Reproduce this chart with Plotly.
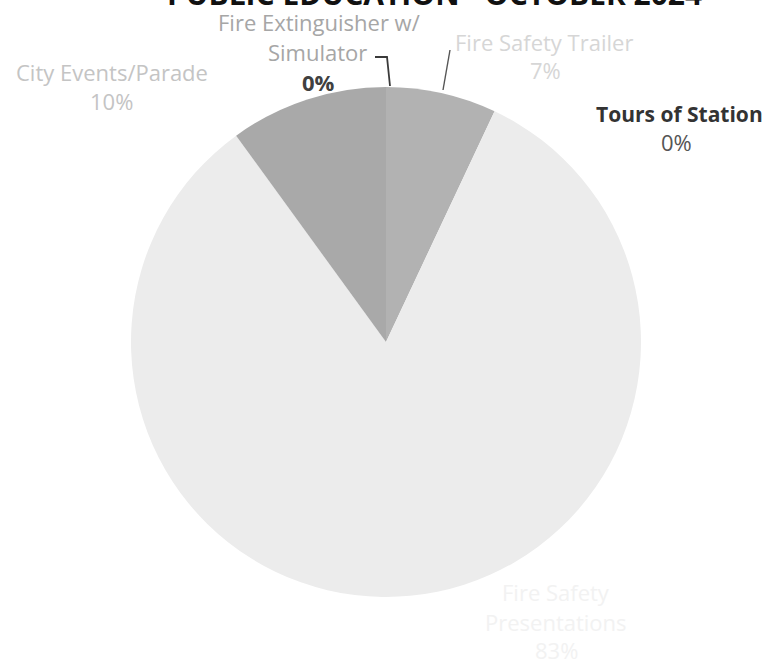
import plotly.graph_objects as go

# Program share of public education activities
categories = [
    "Fire Extinguisher w/ Simulator",
    "Fire Safety Trailer",
    "Tours of Station",
    "Fire Safety Presentations",
    "City Events/Parade",
]
shares = [0, 7, 0, 83, 10]
slice_colors = ["#9a9a9a", "#b2b2b2", "#cfcfcf", "#ececec", "#a9a9a9"]

W, H = 767, 667
cx, cy, r = 386, 342, 255

fig = go.Figure(
    go.Pie(
        labels=categories,
        values=shares,
        sort=False,
        direction="clockwise",
        rotation=0,
        textinfo="none",
        hoverinfo="label+percent",
        marker=dict(colors=slice_colors, line=dict(width=0)),
        domain=dict(
            x=[(cx - r) / W, (cx + r) / W],
            y=[1 - (cy + r) / H, 1 - (cy - r) / H],
        ),
        showlegend=False,
    )
)

FONT = "Open Sans, Noto Sans, sans-serif"


def px(x, y):
    return x / W, 1 - y / H


def label(x, y, text, color, size=22, bold=False, yanchor="middle"):
    ax, ay = px(x, y)
    fig.add_annotation(
        x=ax, y=ay, xref="paper", yref="paper",
        text=f"<b>{text}</b>" if bold else text,
        showarrow=False, xanchor="center", yanchor=yanchor,
        font=dict(family=FONT, size=size, color=color),
    )


# Title, running off the top edge of the page
label(434, 16, "PUBLIC EDUCATION - OCTOBER 2024", "#111111", size=30, bold=True,
      yanchor="bottom")

label(319, 22, "Fire Extinguisher w/", "#a6a6a6")
label(317, 52, "Simulator", "#a6a6a6")
label(318, 82, "0%", "#404040", bold=True)

label(544, 42, "Fire Safety Trailer", "#d6d6d6")
label(545, 70, "7%", "#d6d6d6")

label(679, 114, "Tours of Station", "#333333", size=21, bold=True)
label(676, 142, "0%", "#555555")

label(112, 72, "City Events/Parade", "#c4c4c4")
label(112, 101, "10%", "#c4c4c4")

label(556, 592, "Fire Safety", "#f2f2f2")
label(556, 622, "Presentations", "#f2f2f2")
label(556, 650, "83%", "#f2f2f2")

# Leader lines
def path(points, color, width=1.6):
    d = "M " + " L ".join(f"{px(x, y)[0]},{px(x, y)[1]}" for x, y in points)
    fig.add_shape(type="path", path=d, xref="paper", yref="paper",
                  line=dict(color=color, width=width))


path([(375, 57), (387, 57), (390, 86)], "#3a3a3a", 1.8)
path([(450, 50), (443, 90)], "#555555", 1.4)

fig.update_layout(
    width=W, height=H,
    margin=dict(l=0, r=0, t=0, b=0),
    paper_bgcolor="white",
    plot_bgcolor="white",
)

fig.write_html("out.html")
